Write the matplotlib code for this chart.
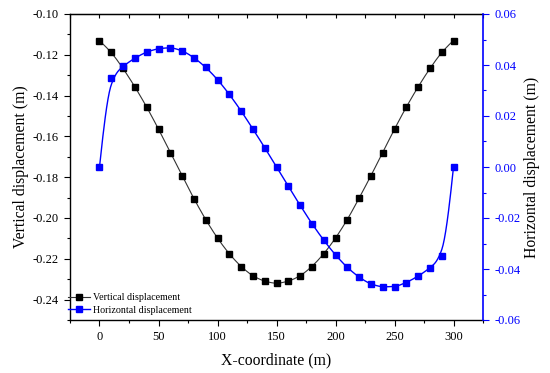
import numpy as np
import matplotlib
matplotlib.use("Agg")
import matplotlib.pyplot as plt
from matplotlib.ticker import MultipleLocator
from matplotlib.lines import Line2D

plt.rcParams['font.family'] = ['Liberation Serif', 'DejaVu Serif']

x_coord = np.arange(0, 301, 10)
vertical = [-0.1132, -0.1188, -0.1267, -0.1357, -0.1456, -0.1564, -0.1679, -0.1793,
            -0.1905, -0.2008, -0.2099, -0.2176, -0.2238, -0.2284, -0.2310, -0.2321,
            -0.2310, -0.2284, -0.2238, -0.2176, -0.2099, -0.2008, -0.1903, -0.1793,
            -0.1679, -0.1564, -0.1456, -0.1357, -0.1267, -0.1188, -0.1130]
horizontal = [0.0000, 0.0348, 0.0395, 0.0427, 0.0451, 0.0464, 0.0468, 0.0456,
              0.0429, 0.0391, 0.0343, 0.0285, 0.0220, 0.0149, 0.0076, 0.0000,
              -0.0076, -0.0150, -0.0222, -0.0287, -0.0345, -0.0394, -0.0432, -0.0459,
              -0.0470, -0.0469, -0.0453, -0.0428, -0.0396, -0.0350, 0.0000]


def bspline(x, y, per_seg=40):
    """Clamped cubic B-spline using the data points as control points."""
    P = np.column_stack([np.asarray(x, float), np.asarray(y, float)])
    n = len(P); p = 3
    kn = np.concatenate([np.zeros(p), np.arange(0, n - p + 1), np.full(p, n - p)]).astype(float)
    us = np.linspace(0, n - p, (n - p) * per_seg + 1)
    out = []
    for u in us:
        k = int(min(np.searchsorted(kn, u, side='right') - 1, n - 1))
        d = [P[j + k - p].copy() for j in range(p + 1)]
        for r in range(1, p + 1):
            for j in range(p, r - 1, -1):
                den = kn[j + 1 + k - r] - kn[j + k - p]
                a = 0.0 if den == 0 else (u - kn[j + k - p]) / den
                d[j] = (1 - a) * d[j - 1] + a * d[j]
        out.append(d[p])
    out = np.array(out)
    return out[:, 0], out[:, 1]


def pchip_eval(x, y, xs):
    x = np.asarray(x, float); y = np.asarray(y, float)
    h = np.diff(x); delta = np.diff(y) / h
    m = len(x); d = np.zeros(m)
    for k in range(1, m - 1):
        if delta[k - 1] * delta[k] > 0:
            w1 = 2 * h[k] + h[k - 1]; w2 = h[k] + 2 * h[k - 1]
            d[k] = (w1 + w2) / (w1 / delta[k - 1] + w2 / delta[k])

    def end(h0, h1, d0, d1):
        dd = ((2 * h0 + h1) * d0 - h0 * d1) / (h0 + h1)
        if np.sign(dd) != np.sign(d0):
            dd = 0.0
        elif np.sign(d0) != np.sign(d1) and abs(dd) > abs(3 * d0):
            dd = 3 * d0
        return dd
    d[0] = end(h[0], h[1], delta[0], delta[1])
    d[-1] = end(h[-1], h[-2], delta[-1], delta[-2])
    idx = np.clip(np.searchsorted(x, xs) - 1, 0, m - 2)
    t = (xs - x[idx]) / h[idx]
    h00 = 2 * t ** 3 - 3 * t ** 2 + 1; h10 = t ** 3 - 2 * t ** 2 + t
    h01 = -2 * t ** 3 + 3 * t ** 2; h11 = t ** 3 - t ** 2
    return h00 * y[idx] + h10 * h[idx] * d[idx] + h01 * y[idx + 1] + h11 * h[idx] * d[idx + 1]


def smooth(x, y, w=0.4):
    xb, yb = bspline(x, y)
    return xb, w * yb + (1 - w) * pchip_eval(x, y, xb)


fig = plt.figure(figsize=(5.5, 3.73), dpi=100)
ax = fig.add_axes([70 / 550, 53 / 373, 413 / 550, 306 / 373])
ax2 = ax.twinx()

blue = '#0000ff'
xs, ys = smooth(x_coord, vertical)
ax.plot(xs, ys, color='#333333', lw=0.8)
ax.plot(x_coord, vertical, 's', color='black', ms=4.2, lw=0)
xs2, ys2 = smooth(x_coord, horizontal)
ax2.plot(xs2, ys2, color=blue, lw=1.0)
ax2.plot(x_coord, horizontal, 's', color=blue, ms=4.5, lw=0)

ax.set_xlim(-25, 325)
ax.set_ylim(-0.25, -0.10)
ax2.set_ylim(-0.06, 0.06)

ax.xaxis.set_major_locator(MultipleLocator(50))
ax.xaxis.set_minor_locator(MultipleLocator(25))
ax.yaxis.set_major_locator(MultipleLocator(0.02))
ax.yaxis.set_minor_locator(MultipleLocator(0.01))
ax2.yaxis.set_major_locator(MultipleLocator(0.02))
ax2.yaxis.set_minor_locator(MultipleLocator(0.01))
ax.yaxis.set_major_formatter(matplotlib.ticker.FormatStrFormatter('%.2f'))
ax2.yaxis.set_major_formatter(matplotlib.ticker.FormatStrFormatter('%.2f'))

ax.tick_params(axis='both', which='major', direction='out', length=4.5, width=0.8, labelsize=9)
ax.tick_params(axis='both', which='minor', direction='out', length=2.5, width=0.8)
ax2.tick_params(axis='y', which='major', direction='out', length=4.5, width=0.8,
                labelsize=9, colors=blue)
ax2.tick_params(axis='y', which='minor', direction='out', length=2.5, width=0.8, colors=blue)

top = ax.secondary_xaxis('top')
top.xaxis.set_major_locator(MultipleLocator(25))
top.tick_params(direction='in', length=3, width=0.8, labeltop=False)

ax.spines['right'].set_visible(False)
ax2.spines['left'].set_visible(False)
ax2.spines['top'].set_visible(False)
ax2.spines['bottom'].set_visible(False)
ax2.spines['right'].set_color(blue)
ax2.spines['right'].set_linewidth(1.2)
for s in ['left', 'bottom', 'top']:
    ax.spines[s].set_linewidth(1.0)

ax.set_xlabel('X-coordinate (m)', fontsize=11.3, labelpad=7)
ax.set_ylabel('Vertical displacement (m)', fontsize=11.3, labelpad=3)
ax2.set_ylabel('Horizontal displacement (m)', fontsize=11.3, labelpad=3, color='black')

handles = [Line2D([0], [0], color='#333333', lw=0.8, marker='s', ms=4.2, mfc='black', mec='black'),
           Line2D([0], [0], color=blue, lw=1.0, marker='s', ms=4.5, mfc=blue, mec=blue)]
ax.legend(handles, ['Vertical displacement', 'Horizontal displacement'], loc='lower left',
          frameon=False, fontsize=7.2, handlelength=2.2, handletextpad=0.3,
          borderaxespad=0.1, borderpad=0.1, labelspacing=0.35,
          bbox_to_anchor=(-0.01, 0.01))

fig.savefig('out.png', dpi=100)
